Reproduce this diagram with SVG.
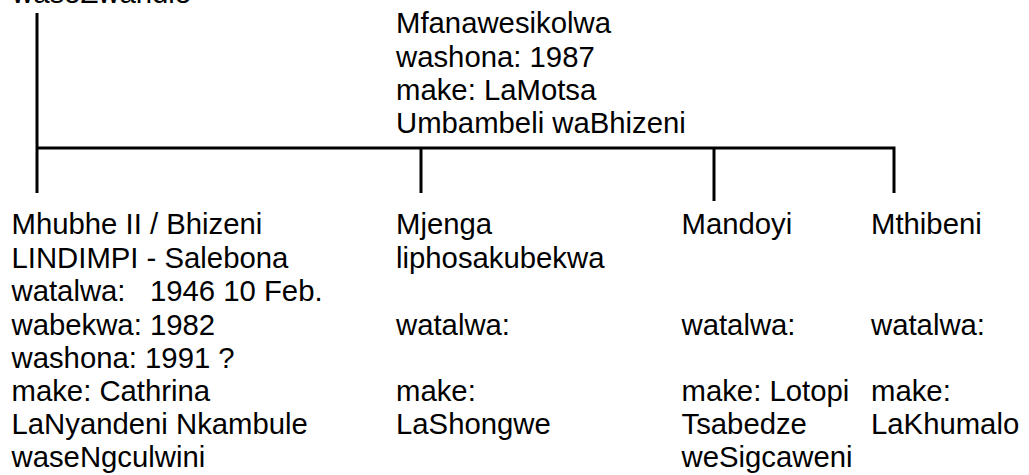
<svg xmlns="http://www.w3.org/2000/svg" width="1029" height="475" viewBox="0 0 1029 475">
<style>
text{font-family:"Liberation Sans",Arial,sans-serif;font-size:29.3px;fill:#000;white-space:pre}
.c{stroke:#000;stroke-width:3;fill:none}
</style>
<rect width="1029" height="475" fill="#fff"/>
<g id="connectors">
<line class="c" x1="37" y1="13" x2="37" y2="193"/>
<path class="c" d="M37,148 H894 V193"/>
<line class="c" x1="421" y1="148" x2="421" y2="193"/>
<line class="c" x1="714" y1="148" x2="714" y2="201"/>
</g>
<g id="parent-origin"><text x="12" y="3">waseZwandle</text></g>
<g id="mfanawesikolwa">
<text x="396" y="33">Mfanawesikolwa</text>
<text x="396" y="66.5">washona: 1987</text>
<text x="396" y="100">make: LaMotsa</text>
<text x="396" y="133">Umbambeli waBhizeni</text>
</g>
<g id="mhubhe">
<text x="11.5" y="234">Mhubhe II / Bhizeni</text>
<text x="11.5" y="267.5">LINDIMPI - Salebona</text>
<text x="11.5" y="301">watalwa:   1946 10 Feb.</text>
<text x="11.5" y="334.5">wabekwa: 1982</text>
<text x="11.5" y="368">washona: 1991 ?</text>
<text x="11.5" y="401">make: Cathrina</text>
<text x="11.5" y="434">LaNyandeni Nkambule</text>
<text x="11.5" y="467">waseNgculwini</text>
</g>
<g id="mjenga">
<text x="396" y="234">Mjenga</text>
<text x="396" y="267.5">liphosakubekwa</text>
<text x="396" y="334.5">watalwa:</text>
<text x="396" y="401">make:</text>
<text x="396" y="434">LaShongwe</text>
</g>
<g id="mandoyi">
<text x="681.5" y="234">Mandoyi</text>
<text x="681.5" y="334.5">watalwa:</text>
<text x="681.5" y="401">make: Lotopi</text>
<text x="681.5" y="434">Tsabedze</text>
<text x="681.5" y="467">weSigcaweni</text>
</g>
<g id="mthibeni">
<text x="871" y="234">Mthibeni</text>
<text x="871" y="334.5">watalwa:</text>
<text x="871" y="401">make:</text>
<text x="871" y="434">LaKhumalo</text>
</g>
</svg>
